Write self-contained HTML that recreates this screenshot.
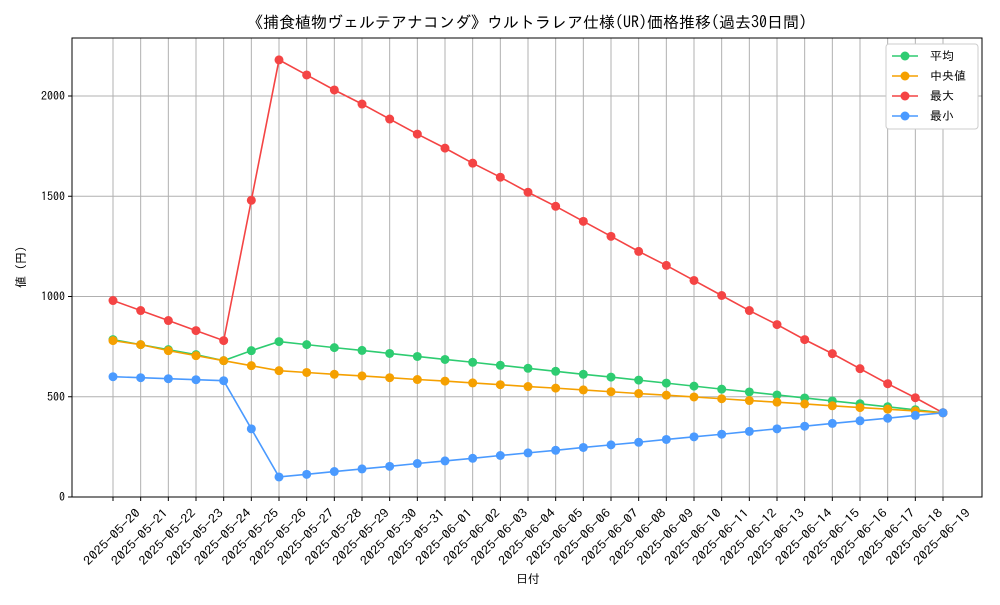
<!DOCTYPE html>
<html><head><meta charset="utf-8">
<style>
body{margin:0;background:#fff;}
svg text{font-family:"IPAGothic","Liberation Sans","Noto Sans CJK JP",sans-serif;fill:#000;}
</style></head>
<body>
<svg id="chart" width="1000" height="600" xmlns="http://www.w3.org/2000/svg">
<rect x="0" y="0" width="1000" height="600" fill="#fff"/>
<text x="527" y="28" font-size="16" text-anchor="middle">《捕食植物ヴェルテアナコンダ》ウルトラレア仕様(UR)価格推移(過去30日間)</text>
<g id="grid"></g>
<g id="axes"></g>
<g id="series"></g>
<rect x="72" y="38" width="910" height="459" fill="none" stroke="#000" stroke-width="1"/>
<text x="528" y="583" font-size="12" text-anchor="middle">日付</text>
<text transform="translate(25,267) rotate(-90)" font-size="12" text-anchor="middle">値 (円)</text>
<g>
<rect x="886" y="44" width="92" height="85" fill="#fff" stroke="#ccc" rx="3"/>
</g>
<g id="legend"></g>
</svg>
<script>
const dates=["2025-05-20","2025-05-21","2025-05-22","2025-05-23","2025-05-24","2025-05-25","2025-05-26","2025-05-27","2025-05-28","2025-05-29","2025-05-30","2025-05-31","2025-06-01","2025-06-02","2025-06-03","2025-06-04","2025-06-05","2025-06-06","2025-06-07","2025-06-08","2025-06-09","2025-06-10","2025-06-11","2025-06-12","2025-06-13","2025-06-14","2025-06-15","2025-06-16","2025-06-17","2025-06-18","2025-06-19"];
const meanVals=[785,760,735,710,680,730,775,760,745,731,716,701,686,672,657,642,627,612,598,583,568,553,538,524,509,494,479,465,450,435,420];
const medianVals=[780,760,730,705,680,655,630,621,612,604,595,586,578,569,560,551,543,534,525,516,508,499,490,481,473,464,455,446,438,429,420];
const maxVals=[980,930,880,830,780,1480,2180,2105,2030,1960,1885,1810,1740,1665,1595,1520,1450,1375,1300,1225,1155,1080,1005,930,860,785,715,640,565,495,420];
const minVals=[600,595,590,585,580,340,100,113,127,140,153,167,180,193,207,220,233,247,260,273,287,300,313,327,340,353,367,380,393,407,420];
const yTicks=[0,500,1000,1500,2000];
const seriesNames=["平均","中央値","最大","最小"];
const NS="http://www.w3.org/2000/svg";
const xPos=i=>113+i*(943-113)/(dates.length-1);
const yPos=v=>497-v*(401/2000);
function mk(tag,attrs,parent){const e=document.createElementNS(NS,tag);for(const k in attrs)e.setAttribute(k,attrs[k]);parent.appendChild(e);return e;}
const grid=document.getElementById('grid'),axes=document.getElementById('axes'),ser=document.getElementById('series'),leg=document.getElementById('legend');
dates.forEach((d,i)=>{const x=xPos(i);
 const g=mk('line',{x1:x,x2:x,y1:38,y2:497,stroke:'#b0b0b0','stroke-width':1},grid);
 
 
 mk('line',{x1:x,x2:x,y1:497,y2:501,stroke:'#000'},axes);
 const t=mk('text',{transform:`translate(${x-1},${537}) rotate(-45)`,'font-size':12,'text-anchor':'middle','dominant-baseline':'central',textLength:74,lengthAdjust:'spacingAndGlyphs'},axes);
 t.textContent=d;
 
 
});
yTicks.forEach(v=>{const y=yPos(v);
 const g=mk('line',{x1:72,x2:982,y1:y,y2:y,stroke:'#b0b0b0','stroke-width':1},grid);
 
 
 mk('line',{x1:68,x2:72,y1:y,y2:y,stroke:'#000'},axes);
 const t=mk('text',{x:65,y:y+4,'font-size':12,'text-anchor':'end'},axes);
 t.textContent=v;
 
 
});
const all=[[meanVals,'#2ecc71'],[medianVals,'#f5a000'],[maxVals,'#f44444'],[minVals,'#4a9aff']];
all.forEach(([vals,c],k)=>{
 const p=mk('polyline',{points:vals.map((v,i)=>xPos(i)+','+yPos(v)).join(' '),fill:'none',stroke:c,'stroke-width':1.6},ser);
 
 
 vals.forEach((v,i)=>{const m=mk('circle',{cx:xPos(i),cy:yPos(v),r:4.5,fill:c},ser);
  
  });
 const ly=56+k*20;
 mk('line',{x1:892,x2:918,y1:ly,y2:ly,stroke:c,'stroke-width':1.6},leg);
 mk('circle',{cx:905,cy:ly,r:4.5,fill:c},leg);
 const t=mk('text',{x:930,y:ly+4,'font-size':12},leg);
 t.textContent=seriesNames[k];
 
 
});
</script>
</body></html>
